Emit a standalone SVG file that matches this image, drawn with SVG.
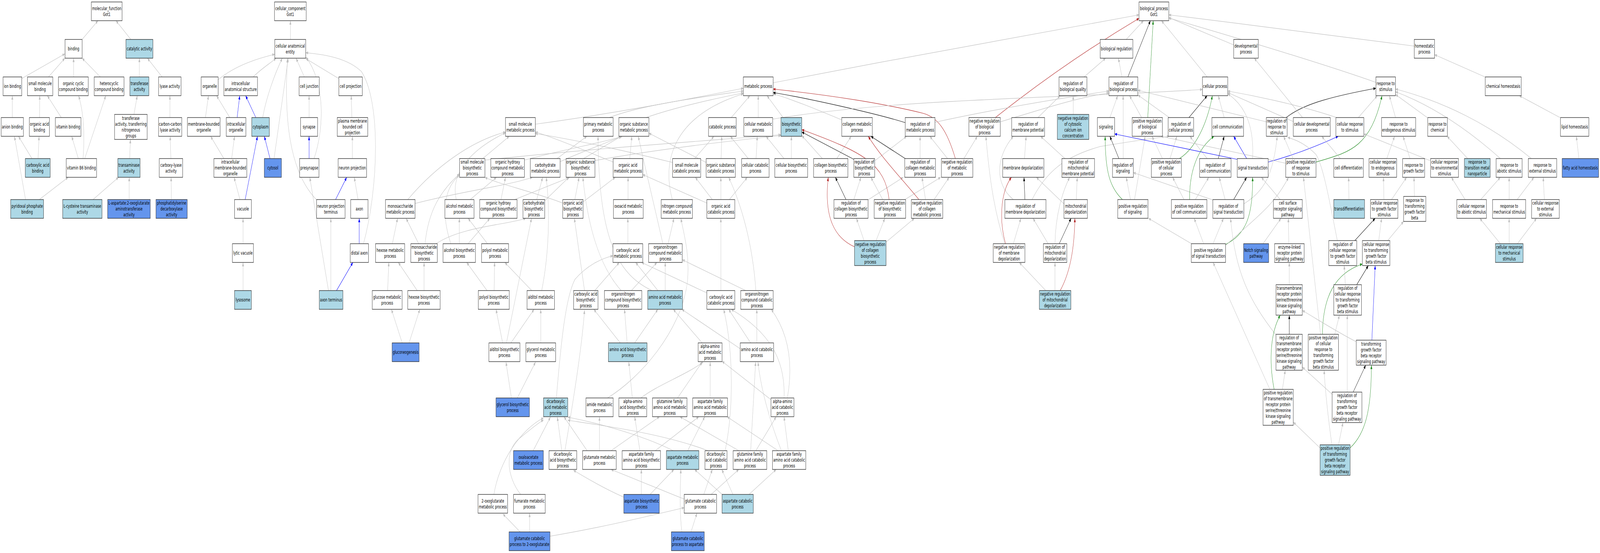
<svg xmlns="http://www.w3.org/2000/svg" width="6761" height="1416" viewBox="0 0 6761 1416" preserveAspectRatio="none">
<defs>
<marker id="ag" viewBox="0 0 10 8" refX="10" refY="4" markerWidth="10" markerHeight="8" markerUnits="userSpaceOnUse" orient="auto"><path d="M0,0L10,4L0,8z" fill="#c0c0c0"/></marker>
<marker id="ak" viewBox="0 0 10 8" refX="10" refY="4" markerWidth="10" markerHeight="8" markerUnits="userSpaceOnUse" orient="auto"><path d="M0,0L10,4L0,8z" fill="#000000"/></marker>
<marker id="ar" viewBox="0 0 10 8" refX="10" refY="4" markerWidth="10" markerHeight="8" markerUnits="userSpaceOnUse" orient="auto"><path d="M0,0L10,4L0,8z" fill="#b22222"/></marker>
<marker id="an" viewBox="0 0 10 8" refX="10" refY="4" markerWidth="10" markerHeight="8" markerUnits="userSpaceOnUse" orient="auto"><path d="M0,0L10,4L0,8z" fill="#228b22"/></marker>
<marker id="ab" viewBox="0 0 10 8" refX="10" refY="4" markerWidth="10" markerHeight="8" markerUnits="userSpaceOnUse" orient="auto"><path d="M0,0L10,4L0,8z" fill="#0000ff"/></marker>
</defs>
<style>
svg{width:100%;height:100%}
.node rect{fill:#ffffff;stroke:#222222;stroke-width:1.3}
.node.lb rect{fill:#add8e6}
.node.bl rect{fill:#6495ed}
.node text{font-family:"DejaVu Sans","Liberation Sans",sans-serif;font-size:13px;fill:#000000;text-anchor:middle}
#edges path{fill:none;stroke-width:1.2}
#edges .e{stroke:#c0c0c0;marker-end:url(#ag)}
#edges .k{stroke:#000000;marker-end:url(#ak)}
#edges .r{stroke:#b22222;marker-end:url(#ar)}
#edges .n{stroke:#228b22;marker-end:url(#an)}
#edges .b{stroke:#0000ff;marker-end:url(#ab)}
</style>
<rect x="0" y="0" width="6761" height="1416" fill="#ffffff"/>
<g id="edges">
<path class="e" d="M347 101L414 53"/>
<path class="e" d="M553 101L490 53"/>
<path class="e" d="M92 201L274 138"/>
<path class="e" d="M205 197L274 149"/>
<path class="e" d="M311 197L311 149"/>
<path class="e" d="M424 197L347 149"/>
<path class="e" d="M589 197L589 149"/>
<path class="e" d="M685 197L623 149"/>
<path class="e" d="M52 301L52 245"/>
<path class="e" d="M167 301L168 245"/>
<path class="e" d="M259 301L200 245"/>
<path class="e" d="M566 293L580 245"/>
<path class="e" d="M718 301L718 245"/>
<path class="e" d="M135 406L78 349"/>
<path class="e" d="M161 406L165 349"/>
<path class="e" d="M331 406L303 349"/>
<path class="e" d="M351 406C358 350 355 290 332 245"/>
<path class="e" d="M358 406L447 245"/>
<path class="e" d="M548 406L551 357"/>
<path class="e" d="M722 406L719 349"/>
<path class="e" d="M108 511L61 349"/>
<path class="e" d="M166 511L288 454"/>
<path class="e" d="M393 511L501 454"/>
<path class="e" d="M546 511L546 454"/>
<path class="e" d="M724 511L723 454"/>
<path class="e" d="M1227 101L1227 53"/>
<path class="e" d="M922 204C1000 165 1100 148 1161 139"/>
<path class="e" d="M1070 197C1100 178 1135 165 1167 149"/>
<path class="e" d="M868 301L881 245"/>
<path class="e" d="M971 301L915 245"/>
<path class="b" d="M1002 301L1013 245"/>
<path class="b" d="M1081 301L1038 245"/>
<path class="e" d="M1110 301C1125 250 1160 190 1193 149"/>
<path class="e" d="M946 406L890 349"/>
<path class="e" d="M979 406L991 349"/>
<path class="b" d="M1141 406L1117 349"/>
<path class="e" d="M1158 406L1218 149"/>
<path class="e" d="M1014 511L989 454"/>
<path class="b" d="M1036 511L1088 349"/>
<path class="e" d="M1027 624L1027 559"/>
<path class="e" d="M1027 744L1027 672"/>
<path class="e" d="M1286 197L1251 149"/>
<path class="e" d="M1431 201L1292 150"/>
<path class="e" d="M1306 301L1306 245"/>
<path class="e" d="M1487 301L1484 245"/>
<path class="b" d="M1306 406L1306 349"/>
<path class="e" d="M1327 406C1370 330 1375 210 1292 146"/>
<path class="e" d="M1489 406L1489 349"/>
<path class="b" d="M1418 511L1465 454"/>
<path class="e" d="M1340 513C1220 440 1200 300 1215 150"/>
<path class="e" d="M1513 511L1497 454"/>
<path class="b" d="M1518 624L1518 559"/>
<path class="e" d="M1536 624C1600 480 1610 260 1527 183C1470 150 1380 140 1292 135"/>
<path class="b" d="M1422 744L1491 672"/>
<path class="e" d="M1388 744L1309 454"/>
<path class="e" d="M1398 744L1398 559"/>
<path class="e" d="M2262 318C2600 290 2900 255 3141 226"/>
<path class="e" d="M2575 301C2700 270 2950 250 3141 233"/>
<path class="e" d="M2730 301C2850 275 3000 255 3141 238"/>
<path class="e" d="M2841 511C2800 420 2830 300 3141 240"/>
<path class="e" d="M3090 301L3169 245"/>
<path class="e" d="M3204 301L3204 245"/>
<path class="e" d="M3309 301L3241 245"/>
<path class="e" d="M3557 307C3450 280 3350 255 3267 240"/>
<path class="k" d="M3825 314C3700 290 3400 250 3267 237"/>
<path class="r" d="M4037 406C4000 330 3960 300 3900 290C3700 260 3450 240 3267 228"/>
<path class="e" d="M3267 212C3800 150 4400 80 4813 38"/>
<path class="r" d="M4206 301Q4500 160 4813 47"/>
<path class="e" d="M3951 313C4200 280 4500 250 4686 233"/>
<path class="e" d="M4227 312C4400 280 4550 250 4686 238"/>
<path class="e" d="M3265 305C3800 250 4600 250 5081 229"/>
<path class="e" d="M3536 406L3597 349"/>
<path class="e" d="M3475 406L3388 347"/>
<path class="k" d="M3608 408L3388 338"/>
<path class="e" d="M3698 411L3831 349"/>
<path class="k" d="M3825 406L3680 349"/>
<path class="e" d="M3888 406L3888 349"/>
<path class="e" d="M4004 406L3929 349"/>
<path class="e" d="M4073 406L4130 349"/>
<path class="k" d="M3575 511L3530 454"/>
<path class="e" d="M3608 511L3638 454"/>
<path class="e" d="M3665 513L3817 454"/>
<path class="r" d="M3757 511C3740 420 3650 390 3388 332"/>
<path class="e" d="M3730 511L3680 454"/>
<path class="e" d="M3824 511L3975 454"/>
<path class="r" d="M3883 511C3800 450 3720 400 3669 349"/>
<path class="e" d="M3911 511L3896 454"/>
<path class="e" d="M3947 511L4011 454"/>
<path class="r" d="M3611 632C3530 610 3480 560 3500 454"/>
<path class="e" d="M3651 616L3619 559"/>
<path class="e" d="M3702 616L3739 559"/>
<path class="e" d="M3744 620L3864 559"/>
<path class="e" d="M4386 301L4480 245"/>
<path class="e" d="M4329 406L4336 349"/>
<path class="k" d="M4331 511L4327 454"/>
<path class="e" d="M4282 511C4200 470 4210 400 4282 349"/>
<path class="e" d="M4361 511C4420 440 4500 400 4650 375C4800 360 4900 352 4940 349"/>
<path class="r" d="M4249 624C4220 560 4230 490 4274 454"/>
<path class="e" d="M4282 624L4314 559"/>
<path class="e" d="M4246 624C4200 540 4180 450 4166 349"/>
<path class="e" d="M4429 624L4365 559"/>
<path class="k" d="M4476 624L4526 559"/>
<path class="e" d="M4458 624C4460 550 4490 490 4520 454"/>
<path class="e" d="M4419 744L4307 672"/>
<path class="e" d="M4458 744L4458 672"/>
<path class="r" d="M4480 744C4520 700 4540 640 4542 559"/>
<path class="e" d="M4548 511L4552 454"/>
<path class="e" d="M4496 522L4379 454"/>
<path class="e" d="M4500 406L4397 349"/>
<path class="e" d="M4535 293L4535 245"/>
<path class="e" d="M4581 197L4672 149"/>
<path class="e" d="M4741 197L4726 149"/>
<path class="e" d="M4759 101L4832 53"/>
<path class="k" d="M4766 197L4861 53"/>
<path class="n" d="M4850 301L4873 53"/>
<path class="e" d="M5101 197L4908 53"/>
<path class="e" d="M5213 115L4939 45"/>
<path class="e" d="M5976 118C5700 95 5300 65 4939 38"/>
<path class="e" d="M5814 211C5600 165 5300 110 4939 46"/>
<path class="e" d="M4690 301L4723 245"/>
<path class="k" d="M4728 406L4690 349"/>
<path class="e" d="M4746 406L4746 245"/>
<path class="n" d="M4743 511C4690 480 4670 440 4670 349"/>
<path class="e" d="M4777 511L4759 454"/>
<path class="e" d="M4794 511L4839 349"/>
<path class="e" d="M4824 301L4773 245"/>
<path class="e" d="M4941 301L4808 243"/>
<path class="k" d="M5024 301L5101 245"/>
<path class="e" d="M5173 301L5148 245"/>
<path class="n" d="M4984 406C5050 380 5100 320 5123 245"/>
<path class="e" d="M4944 406L4973 349"/>
<path class="e" d="M4912 406L4868 349"/>
<path class="k" d="M5148 406L5173 349"/>
<path class="e" d="M5101 406L5028 349"/>
<path class="b" d="M5228 408L4710 343"/>
<path class="b" d="M5268 406L5213 349"/>
<path class="e" d="M5293 406C5300 320 5260 270 5188 240"/>
<path class="b" d="M5359 415C5480 395 5580 370 5655 349"/>
<path class="k" d="M5213 511L5268 454"/>
<path class="e" d="M5177 511L5152 454"/>
<path class="e" d="M5130 513L4789 442"/>
<path class="e" d="M5256 522C5340 490 5380 450 5397 349"/>
<path class="n" d="M5027 511C5025 440 5060 380 5130 349"/>
<path class="e" d="M5051 511L5108 454"/>
<path class="e" d="M5003 511L4955 454"/>
<path class="n" d="M5179 626C5260 600 5295 560 5293 454"/>
<path class="e" d="M5035 624L4853 559"/>
<path class="e" d="M5086 624L5046 559"/>
<path class="e" d="M5126 624L5170 559"/>
<path class="e" d="M5180 628C5300 560 5380 530 5445 454"/>
<path class="e" d="M5464 406L5424 349"/>
<path class="n" d="M5561 415C5700 390 5790 380 5840 245"/>
<path class="e" d="M5433 418L4906 349"/>
<path class="k" d="M5435 301C5500 270 5600 250 5814 226"/>
<path class="e" d="M5351 312L4808 231"/>
<path class="e" d="M5468 312L5188 237"/>
<path class="e" d="M5504 301L5300 149"/>
<path class="e" d="M5648 301C5500 270 5300 245 5188 233"/>
<path class="e" d="M5664 406L5585 349"/>
<path class="e" d="M5410 511L5330 454"/>
<path class="e" d="M5337 624L5413 559"/>
<path class="e" d="M5446 624L5444 559"/>
<path class="e" d="M5448 729L5448 672"/>
<path class="k" d="M5448 856L5448 807"/>
<path class="e" d="M5392 858C5280 770 5220 700 5200 559"/>
<path class="n" d="M5384 997C5360 920 5370 850 5410 807"/>
<path class="e" d="M5419 997L5431 948"/>
<path class="e" d="M5366 997L5126 672"/>
<path class="e" d="M5580 856L5508 454"/>
<path class="n" d="M5588 856C5590 760 5640 700 5757 676"/>
<path class="e" d="M5640 856L5660 807"/>
<path class="e" d="M5651 616C5620 520 5590 420 5560 395C5520 370 5480 358 5441 352"/>
<path class="k" d="M5725 616L5811 559"/>
<path class="e" d="M5685 729L5680 680"/>
<path class="k" d="M5733 729L5782 680"/>
<path class="b" d="M5797 871L5811 680"/>
<path class="e" d="M5731 875C5650 850 5560 815 5503 795"/>
<path class="k" d="M5718 1004L5771 935"/>
<path class="e" d="M5693 1004L5693 807"/>
<path class="e" d="M5630 1010L5503 940"/>
<path class="n" d="M5705 1147C5770 1110 5795 1050 5795 935"/>
<path class="e" d="M5656 1139L5675 1082"/>
<path class="e" d="M5578 1147L5465 1081"/>
<path class="e" d="M5628 1139C5610 1060 5600 1000 5595 948"/>
<path class="e" d="M6275 197L6062 140"/>
<path class="e" d="M6592 301L6420 245"/>
<path class="e" d="M6672 406L6661 349"/>
<path class="e" d="M5740 301L5820 245"/>
<path class="e" d="M5897 301L5871 245"/>
<path class="e" d="M6031 301L5897 242"/>
<path class="e" d="M6340 406C6200 330 6050 270 5897 235"/>
<path class="e" d="M6471 406C6300 320 6100 260 5897 228"/>
<path class="e" d="M5860 406L5893 349"/>
<path class="e" d="M6042 411L5763 343"/>
<path class="e" d="M5958 406L5929 349"/>
<path class="e" d="M6202 406L6115 349"/>
<path class="e" d="M5700 511L5699 454"/>
<path class="e" d="M5848 511L5846 454"/>
<path class="e" d="M5880 511L5944 454"/>
<path class="e" d="M5977 503L5975 454"/>
<path class="e" d="M5826 616L5838 559"/>
<path class="e" d="M5864 616L5931 567"/>
<path class="e" d="M6257 511L6340 454"/>
<path class="e" d="M6191 511L6133 454"/>
<path class="e" d="M6377 511L6377 454"/>
<path class="e" d="M6411 511L6482 454"/>
<path class="e" d="M6526 511L6521 454"/>
<path class="e" d="M6340 624L6253 559"/>
<path class="e" d="M6377 624L6377 559"/>
<path class="e" d="M6412 624L6493 559"/>
<path class="e" d="M2040 406L2152 349"/>
<path class="e" d="M2049 410C2500 380 3000 360 3300 345"/>
<path class="e" d="M2216 410C2400 380 2550 365 2630 349"/>
<path class="e" d="M2117 511L2136 454"/>
<path class="e" d="M1987 511L2098 454"/>
<path class="e" d="M1928 511C1900 440 2000 380 2136 340"/>
<path class="e" d="M1723 511C1850 420 2000 360 2136 338"/>
<path class="e" d="M1754 521C1950 490 2150 475 2250 454"/>
<path class="e" d="M2354 406L2480 349"/>
<path class="e" d="M2367 414C2450 390 2570 365 2625 349"/>
<path class="e" d="M2514 411C2800 380 3100 360 3300 347"/>
<path class="e" d="M2466 406L2625 349"/>
<path class="e" d="M2591 415C2450 380 2330 350 2262 338"/>
<path class="e" d="M2661 406L2670 349"/>
<path class="e" d="M2842 416C2600 380 2400 355 2262 342"/>
<path class="e" d="M2935 406L3017 349"/>
<path class="e" d="M3047 406L3050 349"/>
<path class="e" d="M2984 416L2742 341"/>
<path class="e" d="M3195 406L3200 349"/>
<path class="e" d="M3162 406L3086 349"/>
<path class="e" d="M3313 406L3237 349"/>
<path class="e" d="M3344 406L3344 349"/>
<path class="e" d="M2175 511L2408 454"/>
<path class="e" d="M2268 511L2293 454"/>
<path class="e" d="M2300 515L2404 454"/>
<path class="e" d="M2429 511L2447 454"/>
<path class="e" d="M2464 517L2600 454"/>
<path class="e" d="M2378 520C2250 490 2100 470 2049 454"/>
<path class="e" d="M2654 511L2654 454"/>
<path class="e" d="M2987 520L2716 447"/>
<path class="e" d="M3010 511L2938 454"/>
<path class="e" d="M3046 511L3046 454"/>
<path class="e" d="M3082 511L3158 454"/>
<path class="e" d="M1941 624L1941 559"/>
<path class="e" d="M1978 624L2070 559"/>
<path class="e" d="M1905 624C1860 540 1880 480 1942 448"/>
<path class="e" d="M1796 624C1810 540 1860 490 1942 445"/>
<path class="e" d="M1769 624L1716 559"/>
<path class="e" d="M1843 624C1950 580 2150 575 2222 559"/>
<path class="e" d="M1658 624L1680 559"/>
<path class="e" d="M2060 624L1978 559"/>
<path class="e" d="M2088 744L2090 672"/>
<path class="e" d="M2058 744L1972 672"/>
<path class="e" d="M2247 744L2133 672"/>
<path class="e" d="M2289 744C2320 650 2325 540 2308 454"/>
<path class="e" d="M1638 744L1643 672"/>
<path class="e" d="M1763 744L1683 672"/>
<path class="e" d="M1792 744L1792 672"/>
<path class="e" d="M1700 879L1654 792"/>
<path class="e" d="M1728 879L1774 792"/>
<path class="e" d="M2124 878L2096 792"/>
<path class="e" d="M2159 878L2257 792"/>
<path class="e" d="M2140 878L2246 559"/>
<path class="e" d="M2285 878L2285 792"/>
<path class="e" d="M2161 1019L2138 927"/>
<path class="e" d="M2186 1019L2263 927"/>
<path class="e" d="M2351 1019C2370 880 2390 760 2430 715C2480 680 2540 662 2590 655"/>
<path class="e" d="M2253 1154L2326 1068"/>
<path class="e" d="M2087 1266C2110 1180 2200 1100 2297 1070"/>
<path class="e" d="M2200 1266C2140 1220 2130 1150 2200 1120C2240 1100 2270 1085 2297 1075"/>
<path class="e" d="M2374 1154L2355 1068"/>
<path class="e" d="M2387 1154C2430 1000 2460 880 2470 794"/>
<path class="e" d="M2198 1362L2125 1316"/>
<path class="e" d="M2238 1362L2238 1314"/>
<path class="e" d="M2324 1373C2550 1350 2750 1320 2891 1300"/>
<path class="e" d="M2636 1273C2550 1250 2480 1225 2423 1204"/>
<path class="e" d="M2653 624L2653 559"/>
<path class="e" d="M2823 624L2848 559"/>
<path class="e" d="M2801 624C2770 540 2730 440 2697 349"/>
<path class="e" d="M2513 744L2617 672"/>
<path class="e" d="M2470 744L2427 559"/>
<path class="e" d="M2668 744L2776 672"/>
<path class="e" d="M2625 744C2560 700 2490 620 2463 454"/>
<path class="e" d="M2780 744L2686 672"/>
<path class="e" d="M2811 744L2811 672"/>
<path class="e" d="M2755 744C2600 700 2530 600 2527 349"/>
<path class="e" d="M2987 750L2711 672"/>
<path class="e" d="M3046 744L3046 559"/>
<path class="e" d="M3151 744L2883 665"/>
<path class="e" d="M3194 744C3180 620 3130 520 3079 454"/>
<path class="e" d="M2621 878L2509 792"/>
<path class="e" d="M2650 878L2639 792"/>
<path class="e" d="M2682 878L2780 792"/>
<path class="e" d="M2967 878L2845 792"/>
<path class="e" d="M3172 878L3079 792"/>
<path class="e" d="M3198 878L3198 792"/>
<path class="e" d="M3128 893L2881 792"/>
<path class="e" d="M2567 1019C2700 970 2880 850 2905 720C2915 650 2890 600 2877 559"/>
<path class="e" d="M2672 1019L2657 927"/>
<path class="e" d="M2708 1019C2780 985 2900 960 2971 927"/>
<path class="e" d="M2863 1019L2967 927"/>
<path class="e" d="M3001 1019L3001 927"/>
<path class="e" d="M3259 1024L3051 925"/>
<path class="e" d="M3313 1019C3320 920 3250 850 3090 792"/>
<path class="e" d="M3327 1019C3350 940 3340 860 3259 792"/>
<path class="e" d="M2582 1154L2787 1067"/>
<path class="e" d="M2481 1154L2383 1067"/>
<path class="e" d="M2533 1154L2533 1067"/>
<path class="e" d="M2704 1154L2682 1067"/>
<path class="e" d="M2769 1154L2953 1067"/>
<path class="e" d="M2845 1154C2700 1110 2500 1080 2399 1068"/>
<path class="e" d="M2906 1154L2978 1067"/>
<path class="e" d="M2992 1154C2800 1110 2550 1090 2399 1076"/>
<path class="e" d="M3064 1154C3100 1050 3100 900 3058 792"/>
<path class="e" d="M3122 1154L2873 1067"/>
<path class="e" d="M3172 1154L3193 927"/>
<path class="e" d="M3194 1154L3280 1067"/>
<path class="e" d="M3288 1154L3072 1067"/>
<path class="e" d="M3331 1154L3313 1067"/>
<path class="e" d="M3302 1154C3260 1090 3215 1000 3203 927"/>
<path class="e" d="M2710 1266L2710 1202"/>
<path class="e" d="M2747 1266L2848 1202"/>
<path class="e" d="M2891 1278L2582 1202"/>
<path class="e" d="M2974 1266L3010 1202"/>
<path class="e" d="M3005 1266L3122 1202"/>
<path class="e" d="M3064 1273L2935 1202"/>
<path class="e" d="M3097 1266L3050 1202"/>
<path class="e" d="M3165 1266L3280 1202"/>
<path class="e" d="M2881 1362C2870 1300 2875 1250 2877 1202"/>
<path class="e" d="M2920 1362L2945 1314"/>
</g>
<g id="n-mf" class="node"><rect x="386" y="5" width="130" height="48"/><text><tspan x="451" y="26">molecular_function</tspan><tspan x="451" y="41">Got1</tspan></text></g>
<g id="n-binding" class="node"><rect x="275" y="101" width="72" height="48"/><text x="311" y="129.5">binding</text></g>
<g id="n-catalytic" class="node lb"><rect x="532" y="101" width="114" height="48"/><text x="589" y="129.5">catalytic activity</text></g>
<g id="n-ionb" class="node"><rect x="13" y="197" width="79" height="48"/><text x="52.5" y="225.5">ion binding</text></g>
<g id="n-smb" class="node"><rect x="116" y="197" width="107" height="48"/><text><tspan x="169.5" y="218">small molecule</tspan><tspan x="169.5" y="233">binding</tspan></text></g>
<g id="n-occb" class="node"><rect x="247" y="197" width="126" height="48"/><text><tspan x="310" y="218">organic cyclic</tspan><tspan x="310" y="233">compound binding</tspan></text></g>
<g id="n-hccb" class="node"><rect x="398" y="197" width="126" height="48"/><text><tspan x="461" y="218">heterocyclic</tspan><tspan x="461" y="233">compound binding</tspan></text></g>
<g id="n-transf" class="node lb"><rect x="549" y="197" width="80" height="48"/><text><tspan x="589" y="218">transferase</tspan><tspan x="589" y="233">activity</tspan></text></g>
<g id="n-lyase" class="node"><rect x="670" y="197" width="95" height="48"/><text x="717.5" y="225.5">lyase activity</text></g>
<g id="n-anionb" class="node"><rect x="5" y="301" width="94" height="48"/><text x="52" y="329.5">anion binding</text></g>
<g id="n-oab" class="node"><rect x="124" y="301" width="85" height="48"/><text><tspan x="166.5" y="322">organic acid</tspan><tspan x="166.5" y="337">binding</tspan></text></g>
<g id="n-vitb" class="node"><rect x="234" y="301" width="108" height="48"/><text x="288" y="329.5">vitamin binding</text></g>
<g id="n-transn" class="node"><rect x="484" y="293" width="138" height="64"/><text><tspan x="553" y="307">transferase</tspan><tspan x="553" y="322">activity, transferring</tspan><tspan x="553" y="337">nitrogenous</tspan><tspan x="553" y="352">groups</tspan></text></g>
<g id="n-ccly" class="node"><rect x="670" y="301" width="98" height="48"/><text><tspan x="719" y="322">carbon-carbon</tspan><tspan x="719" y="337">lyase activity</tspan></text></g>
<g id="n-carbb" class="node lb"><rect x="107" y="406" width="105" height="48"/><text><tspan x="159.5" y="427">carboxylic acid</tspan><tspan x="159.5" y="442">binding</tspan></text></g>
<g id="n-vb6" class="node"><rect x="280" y="406" width="128" height="48"/><text x="344" y="434.5">vitamin B6 binding</text></g>
<g id="n-transam" class="node lb"><rect x="498" y="406" width="94" height="48"/><text><tspan x="545" y="427">transaminase</tspan><tspan x="545" y="442">activity</tspan></text></g>
<g id="n-cxly" class="node"><rect x="673" y="406" width="99" height="48"/><text><tspan x="722.5" y="427">carboxy-lyase</tspan><tspan x="722.5" y="442">activity</tspan></text></g>
<g id="n-pyr" class="node lb"><rect x="45" y="511" width="139" height="48"/><text><tspan x="114.5" y="532">pyridoxal phosphate</tspan><tspan x="114.5" y="547">binding</tspan></text></g>
<g id="n-lcys" class="node lb"><rect x="265" y="511" width="166" height="48"/><text><tspan x="348" y="532">L-cysteine transaminase</tspan><tspan x="348" y="547">activity</tspan></text></g>
<g id="n-lasp" class="node bl"><rect x="455" y="511" width="180" height="48"/><text><tspan x="545" y="524.5">L-aspartate:2-oxoglutarate</tspan><tspan x="545" y="539.5">aminotransferase</tspan><tspan x="545" y="554.5">activity</tspan></text></g>
<g id="n-pser" class="node bl"><rect x="659" y="511" width="132" height="48"/><text><tspan x="725" y="524.5">phosphatidylserine</tspan><tspan x="725" y="539.5">decarboxylase</tspan><tspan x="725" y="554.5">activity</tspan></text></g>
<g id="n-cc" class="node"><rect x="1160" y="5" width="134" height="48"/><text><tspan x="1227" y="26">cellular_component</tspan><tspan x="1227" y="41">Got1</tspan></text></g>
<g id="n-cae" class="node"><rect x="1161" y="101" width="131" height="48"/><text><tspan x="1226.5" y="122">cellular anatomical</tspan><tspan x="1226.5" y="137">entity</tspan></text></g>
<g id="n-organelle" class="node"><rect x="850" y="197" width="72" height="48"/><text x="886" y="225.5">organelle</text></g>
<g id="n-ias" class="node"><rect x="946" y="197" width="142" height="48"/><text><tspan x="1017" y="218">intracellular</tspan><tspan x="1017" y="233">anatomical structure</tspan></text></g>
<g id="n-celljunc" class="node"><rect x="1264" y="197" width="85" height="48"/><text x="1306.5" y="225.5">cell junction</text></g>
<g id="n-cellproj" class="node"><rect x="1432" y="197" width="99" height="48"/><text x="1481.5" y="225.5">cell projection</text></g>
<g id="n-mbo" class="node"><rect x="792" y="301" width="138" height="48"/><text><tspan x="861" y="322">membrane-bounded</tspan><tspan x="861" y="337">organelle</tspan></text></g>
<g id="n-io" class="node"><rect x="956" y="301" width="83" height="48"/><text><tspan x="997.5" y="322">intracellular</tspan><tspan x="997.5" y="337">organelle</tspan></text></g>
<g id="n-cyto" class="node lb"><rect x="1064" y="301" width="74" height="48"/><text x="1101" y="329.5">cytoplasm</text></g>
<g id="n-synapse" class="node"><rect x="1270" y="301" width="72" height="48"/><text x="1306" y="329.5">synapse</text></g>
<g id="n-pmbcp" class="node"><rect x="1425" y="301" width="129" height="48"/><text><tspan x="1489.5" y="314.5">plasma membrane</tspan><tspan x="1489.5" y="329.5">bounded cell</tspan><tspan x="1489.5" y="344.5">projection</tspan></text></g>
<g id="n-imbo" class="node"><rect x="904" y="406" width="139" height="48"/><text><tspan x="973.5" y="419.5">intracellular</tspan><tspan x="973.5" y="434.5">membrane-bounded</tspan><tspan x="973.5" y="449.5">organelle</tspan></text></g>
<g id="n-cytosol" class="node bl"><rect x="1117" y="406" width="72" height="48"/><text x="1153" y="434.5">cytosol</text></g>
<g id="n-presyn" class="node"><rect x="1266" y="406" width="82" height="48"/><text x="1307" y="434.5">presynapse</text></g>
<g id="n-neuproj" class="node"><rect x="1429" y="406" width="120" height="48"/><text x="1489" y="434.5">neuron projection</text></g>
<g id="n-vacuole" class="node"><rect x="991" y="511" width="71" height="48"/><text x="1026.5" y="539.5">vacuole</text></g>
<g id="n-npt" class="node"><rect x="1338" y="511" width="120" height="48"/><text><tspan x="1398" y="532">neuron projection</tspan><tspan x="1398" y="547">terminus</tspan></text></g>
<g id="n-axon" class="node"><rect x="1482" y="511" width="73" height="48"/><text x="1518.5" y="539.5">axon</text></g>
<g id="n-lytic" class="node"><rect x="982" y="624" width="89" height="48"/><text x="1026.5" y="652.5">lytic vacuole</text></g>
<g id="n-distal" class="node"><rect x="1480" y="624" width="77" height="48"/><text x="1518.5" y="652.5">distal axon</text></g>
<g id="n-lysosome" class="node lb"><rect x="991" y="744" width="71" height="48"/><text x="1026.5" y="772.5">lysosome</text></g>
<g id="n-axterm" class="node lb"><rect x="1349" y="744" width="100" height="48"/><text x="1399" y="772.5">axon terminus</text></g>
<g id="n-mp" class="node"><rect x="3141" y="197" width="126" height="48"/><text x="3204" y="225.5">metabolic process</text></g>
<g id="n-smmp" class="node"><rect x="2136" y="301" width="126" height="48"/><text><tspan x="2199" y="322">small molecule</tspan><tspan x="2199" y="337">metabolic process</tspan></text></g>
<g id="n-pmp" class="node"><rect x="2465" y="301" width="126" height="48"/><text><tspan x="2528" y="322">primary metabolic</tspan><tspan x="2528" y="337">process</tspan></text></g>
<g id="n-osmp" class="node"><rect x="2615" y="301" width="127" height="48"/><text><tspan x="2678.5" y="322">organic substance</tspan><tspan x="2678.5" y="337">metabolic process</tspan></text></g>
<g id="n-catp" class="node"><rect x="2994" y="301" width="117" height="48"/><text x="3052.5" y="329.5">catabolic process</text></g>
<g id="n-cmp" class="node"><rect x="3143" y="301" width="122" height="48"/><text><tspan x="3204" y="322">cellular metabolic</tspan><tspan x="3204" y="337">process</tspan></text></g>
<g id="n-bsp" class="node lb"><rect x="3300" y="301" width="88" height="48"/><text><tspan x="3344" y="322">biosynthetic</tspan><tspan x="3344" y="337">process</tspan></text></g>
<g id="n-smbp" class="node"><rect x="1942" y="406" width="107" height="48"/><text><tspan x="1995.5" y="419.5">small molecule</tspan><tspan x="1995.5" y="434.5">biosynthetic</tspan><tspan x="1995.5" y="449.5">process</tspan></text></g>
<g id="n-ohcmp" class="node"><rect x="2074" y="406" width="142" height="48"/><text><tspan x="2145" y="419.5">organic hydroxy</tspan><tspan x="2145" y="434.5">compound metabolic</tspan><tspan x="2145" y="449.5">process</tspan></text></g>
<g id="n-chmp" class="node"><rect x="2241" y="406" width="126" height="48"/><text><tspan x="2304" y="427">carbohydrate</tspan><tspan x="2304" y="442">metabolic process</tspan></text></g>
<g id="n-osbp" class="node"><rect x="2392" y="406" width="122" height="48"/><text><tspan x="2453" y="419.5">organic substance</tspan><tspan x="2453" y="434.5">biosynthetic</tspan><tspan x="2453" y="449.5">process</tspan></text></g>
<g id="n-oamp" class="node"><rect x="2591" y="406" width="125" height="48"/><text><tspan x="2653.5" y="427">organic acid</tspan><tspan x="2653.5" y="442">metabolic process</tspan></text></g>
<g id="n-smcp" class="node"><rect x="2842" y="406" width="119" height="48"/><text><tspan x="2901.5" y="427">small molecule</tspan><tspan x="2901.5" y="442">catabolic process</tspan></text></g>
<g id="n-oscp" class="node"><rect x="2984" y="406" width="123" height="48"/><text><tspan x="3045.5" y="427">organic substance</tspan><tspan x="3045.5" y="442">catabolic process</tspan></text></g>
<g id="n-ccp" class="node"><rect x="3134" y="406" width="116" height="48"/><text><tspan x="3192" y="427">cellular catabolic</tspan><tspan x="3192" y="442">process</tspan></text></g>
<g id="n-cbp2" class="node"><rect x="3274" y="406" width="139" height="48"/><text><tspan x="3343.5" y="427">cellular biosynthetic</tspan><tspan x="3343.5" y="442">process</tspan></text></g>
<g id="n-msmp" class="node"><rect x="1629" y="511" width="125" height="48"/><text><tspan x="1691.5" y="532">monosaccharide</tspan><tspan x="1691.5" y="547">metabolic process</tspan></text></g>
<g id="n-almp" class="node"><rect x="1880" y="511" width="123" height="48"/><text><tspan x="1941.5" y="532">alcohol metabolic</tspan><tspan x="1941.5" y="547">process</tspan></text></g>
<g id="n-ohcbp" class="node"><rect x="2027" y="511" width="158" height="48"/><text><tspan x="2106" y="524.5">organic hydroxy</tspan><tspan x="2106" y="539.5">compound biosynthetic</tspan><tspan x="2106" y="554.5">process</tspan></text></g>
<g id="n-chbp" class="node"><rect x="2210" y="511" width="92" height="48"/><text><tspan x="2256" y="524.5">carbohydrate</tspan><tspan x="2256" y="539.5">biosynthetic</tspan><tspan x="2256" y="554.5">process</tspan></text></g>
<g id="n-oabp" class="node"><rect x="2378" y="511" width="86" height="48"/><text><tspan x="2421" y="524.5">organic acid</tspan><tspan x="2421" y="539.5">biosynthetic</tspan><tspan x="2421" y="554.5">process</tspan></text></g>
<g id="n-oxmp" class="node"><rect x="2592" y="511" width="126" height="48"/><text><tspan x="2655" y="532">oxoacid metabolic</tspan><tspan x="2655" y="547">process</tspan></text></g>
<g id="n-ncmp" class="node"><rect x="2794" y="511" width="132" height="48"/><text><tspan x="2860" y="532">nitrogen compound</tspan><tspan x="2860" y="547">metabolic process</tspan></text></g>
<g id="n-oacp" class="node"><rect x="2987" y="511" width="118" height="48"/><text><tspan x="3046" y="532">organic acid</tspan><tspan x="3046" y="547">catabolic process</tspan></text></g>
<g id="n-hexmp" class="node"><rect x="1587" y="624" width="123" height="48"/><text><tspan x="1648.5" y="645">hexose metabolic</tspan><tspan x="1648.5" y="660">process</tspan></text></g>
<g id="n-msbp" class="node"><rect x="1736" y="624" width="112" height="48"/><text><tspan x="1792" y="637.5">monosaccharide</tspan><tspan x="1792" y="652.5">biosynthetic</tspan><tspan x="1792" y="667.5">process</tspan></text></g>
<g id="n-albp" class="node"><rect x="1872" y="624" width="137" height="48"/><text><tspan x="1940.5" y="645">alcohol biosynthetic</tspan><tspan x="1940.5" y="660">process</tspan></text></g>
<g id="n-polmp" class="node"><rect x="2035" y="624" width="114" height="48"/><text><tspan x="2092" y="645">polyol metabolic</tspan><tspan x="2092" y="660">process</tspan></text></g>
<g id="n-camp" class="node"><rect x="2590" y="624" width="126" height="48"/><text><tspan x="2653" y="645">carboxylic acid</tspan><tspan x="2653" y="660">metabolic process</tspan></text></g>
<g id="n-oncmp" class="node"><rect x="2741" y="624" width="142" height="48"/><text><tspan x="2812" y="637.5">organonitrogen</tspan><tspan x="2812" y="652.5">compound metabolic</tspan><tspan x="2812" y="667.5">process</tspan></text></g>
<g id="n-glcmp" class="node"><rect x="1573" y="744" width="126" height="48"/><text><tspan x="1636" y="765">glucose metabolic</tspan><tspan x="1636" y="780">process</tspan></text></g>
<g id="n-hexbp" class="node"><rect x="1723" y="744" width="137" height="48"/><text><tspan x="1791.5" y="765">hexose biosynthetic</tspan><tspan x="1791.5" y="780">process</tspan></text></g>
<g id="n-polbp" class="node"><rect x="2021" y="744" width="131" height="48"/><text><tspan x="2086.5" y="765">polyol biosynthetic</tspan><tspan x="2086.5" y="780">process</tspan></text></g>
<g id="n-aldmp" class="node"><rect x="2227" y="744" width="116" height="48"/><text><tspan x="2285" y="765">alditol metabolic</tspan><tspan x="2285" y="780">process</tspan></text></g>
<g id="n-cabp" class="node"><rect x="2424" y="744" width="103" height="48"/><text><tspan x="2475.5" y="757.5">carboxylic acid</tspan><tspan x="2475.5" y="772.5">biosynthetic</tspan><tspan x="2475.5" y="787.5">process</tspan></text></g>
<g id="n-oncbp" class="node"><rect x="2554" y="744" width="158" height="48"/><text><tspan x="2633" y="757.5">organonitrogen</tspan><tspan x="2633" y="772.5">compound biosynthetic</tspan><tspan x="2633" y="787.5">process</tspan></text></g>
<g id="n-aamp" class="node lb"><rect x="2737" y="744" width="147" height="48"/><text><tspan x="2810.5" y="765">amino acid metabolic</tspan><tspan x="2810.5" y="780">process</tspan></text></g>
<g id="n-cacp" class="node"><rect x="2987" y="744" width="118" height="48"/><text><tspan x="3046" y="765">carboxylic acid</tspan><tspan x="3046" y="780">catabolic process</tspan></text></g>
<g id="n-onccp" class="node"><rect x="3130" y="744" width="137" height="48"/><text><tspan x="3198.5" y="757.5">organonitrogen</tspan><tspan x="3198.5" y="772.5">compound catabolic</tspan><tspan x="3198.5" y="787.5">process</tspan></text></g>
<g id="n-gng" class="node bl"><rect x="1657" y="878" width="114" height="48"/><text x="1714" y="906.5">gluconeogenesis</text></g>
<g id="n-aldbp" class="node"><rect x="2066" y="878" width="131" height="48"/><text><tspan x="2131.5" y="899">alditol biosynthetic</tspan><tspan x="2131.5" y="914">process</tspan></text></g>
<g id="n-glymp" class="node"><rect x="2222" y="878" width="126" height="48"/><text><tspan x="2285" y="899">glycerol metabolic</tspan><tspan x="2285" y="914">process</tspan></text></g>
<g id="n-aabp" class="node lb"><rect x="2571" y="878" width="163" height="48"/><text><tspan x="2652.5" y="899">amino acid biosynthetic</tspan><tspan x="2652.5" y="914">process</tspan></text></g>
<g id="n-aaamp" class="node"><rect x="2950" y="878" width="101" height="48"/><text><tspan x="3000.5" y="891.5">alpha-amino</tspan><tspan x="3000.5" y="906.5">acid metabolic</tspan><tspan x="3000.5" y="921.5">process</tspan></text></g>
<g id="n-aacp" class="node"><rect x="3128" y="878" width="141" height="48"/><text><tspan x="3198.5" y="899">amino acid catabolic</tspan><tspan x="3198.5" y="914">process</tspan></text></g>
<g id="n-glybp" class="node bl"><rect x="2096" y="1019" width="141" height="48"/><text><tspan x="2166.5" y="1040">glycerol biosynthetic</tspan><tspan x="2166.5" y="1055">process</tspan></text></g>
<g id="n-dcamp" class="node lb"><rect x="2297" y="1019" width="102" height="48"/><text><tspan x="2348" y="1032.5">dicarboxylic</tspan><tspan x="2348" y="1047.5">acid metabolic</tspan><tspan x="2348" y="1062.5">process</tspan></text></g>
<g id="n-amide" class="node"><rect x="2476" y="1019" width="115" height="48"/><text><tspan x="2533.5" y="1040">amide metabolic</tspan><tspan x="2533.5" y="1055">process</tspan></text></g>
<g id="n-aaabp" class="node"><rect x="2615" y="1019" width="118" height="48"/><text><tspan x="2674" y="1032.5">alpha-amino</tspan><tspan x="2674" y="1047.5">acid biosynthetic</tspan><tspan x="2674" y="1062.5">process</tspan></text></g>
<g id="n-gfmp" class="node"><rect x="2757" y="1019" width="146" height="48"/><text><tspan x="2830" y="1032.5">glutamine family</tspan><tspan x="2830" y="1047.5">amino acid metabolic</tspan><tspan x="2830" y="1062.5">process</tspan></text></g>
<g id="n-afmp" class="node"><rect x="2927" y="1019" width="147" height="48"/><text><tspan x="3000.5" y="1032.5">aspartate family</tspan><tspan x="3000.5" y="1047.5">amino acid metabolic</tspan><tspan x="3000.5" y="1062.5">process</tspan></text></g>
<g id="n-aaacp" class="node"><rect x="3258" y="1019" width="97" height="48"/><text><tspan x="3306.5" y="1032.5">alpha-amino</tspan><tspan x="3306.5" y="1047.5">acid catabolic</tspan><tspan x="3306.5" y="1062.5">process</tspan></text></g>
<g id="n-oxa" class="node bl"><rect x="2170" y="1154" width="126" height="48"/><text><tspan x="2233" y="1175">oxaloacetate</tspan><tspan x="2233" y="1190">metabolic process</tspan></text></g>
<g id="n-dcabp" class="node"><rect x="2320" y="1154" width="117" height="48"/><text><tspan x="2378.5" y="1167.5">dicarboxylic</tspan><tspan x="2378.5" y="1182.5">acid biosynthetic</tspan><tspan x="2378.5" y="1197.5">process</tspan></text></g>
<g id="n-glump" class="node"><rect x="2462" y="1154" width="142" height="48"/><text><tspan x="2533" y="1175">glutamate metabolic</tspan><tspan x="2533" y="1190">process</tspan></text></g>
<g id="n-afbp" class="node"><rect x="2629" y="1154" width="162" height="48"/><text><tspan x="2710" y="1167.5">aspartate family</tspan><tspan x="2710" y="1182.5">amino acid biosynthetic</tspan><tspan x="2710" y="1197.5">process</tspan></text></g>
<g id="n-aspmp" class="node lb"><rect x="2816" y="1154" width="137" height="48"/><text><tspan x="2884.5" y="1175">aspartate metabolic</tspan><tspan x="2884.5" y="1190">process</tspan></text></g>
<g id="n-dcacp" class="node"><rect x="2979" y="1154" width="93" height="48"/><text><tspan x="3025.5" y="1167.5">dicarboxylic</tspan><tspan x="3025.5" y="1182.5">acid catabolic</tspan><tspan x="3025.5" y="1197.5">process</tspan></text></g>
<g id="n-gfcp" class="node"><rect x="3098" y="1154" width="142" height="48"/><text><tspan x="3169" y="1167.5">glutamine family</tspan><tspan x="3169" y="1182.5">amino acid catabolic</tspan><tspan x="3169" y="1197.5">process</tspan></text></g>
<g id="n-afcp" class="node"><rect x="3264" y="1154" width="141" height="48"/><text><tspan x="3334.5" y="1167.5">aspartate family</tspan><tspan x="3334.5" y="1182.5">amino acid catabolic</tspan><tspan x="3334.5" y="1197.5">process</tspan></text></g>
<g id="n-oxg" class="node"><rect x="2020" y="1266" width="125" height="48"/><text><tspan x="2082.5" y="1287">2-oxoglutarate</tspan><tspan x="2082.5" y="1302">metabolic process</tspan></text></g>
<g id="n-fum" class="node"><rect x="2170" y="1266" width="134" height="48"/><text><tspan x="2237" y="1287">fumarate metabolic</tspan><tspan x="2237" y="1302">process</tspan></text></g>
<g id="n-aspbp" class="node bl"><rect x="2636" y="1266" width="150" height="48"/><text><tspan x="2711" y="1287">aspartate biosynthetic</tspan><tspan x="2711" y="1302">process</tspan></text></g>
<g id="n-glucp" class="node"><rect x="2891" y="1266" width="137" height="48"/><text><tspan x="2959.5" y="1287">glutamate catabolic</tspan><tspan x="2959.5" y="1302">process</tspan></text></g>
<g id="n-aspcp" class="node lb"><rect x="3051" y="1266" width="132" height="48"/><text><tspan x="3117" y="1287">aspartate catabolic</tspan><tspan x="3117" y="1302">process</tspan></text></g>
<g id="n-glu2oxg" class="node bl"><rect x="2151" y="1362" width="173" height="48"/><text><tspan x="2237.5" y="1383">glutamate catabolic</tspan><tspan x="2237.5" y="1398">process to 2-oxoglutarate</tspan></text></g>
<g id="n-glu2asp" class="node bl"><rect x="2837" y="1362" width="139" height="48"/><text><tspan x="2906.5" y="1383">glutamate catabolic</tspan><tspan x="2906.5" y="1398">process to aspartate</tspan></text></g>
<g id="n-colmp" class="node"><rect x="3557" y="301" width="129" height="48"/><text><tspan x="3621.5" y="322">collagen metabolic</tspan><tspan x="3621.5" y="337">process</tspan></text></g>
<g id="n-regmp" class="node"><rect x="3825" y="301" width="126" height="48"/><text><tspan x="3888" y="322">regulation of</tspan><tspan x="3888" y="337">metabolic process</tspan></text></g>
<g id="n-nrbp" class="node"><rect x="4094" y="301" width="133" height="48"/><text><tspan x="4160.5" y="314.5">negative regulation</tspan><tspan x="4160.5" y="329.5">of biological</tspan><tspan x="4160.5" y="344.5">process</tspan></text></g>
<g id="n-regmemp" class="node"><rect x="4275" y="301" width="139" height="48"/><text><tspan x="4344.5" y="322">regulation of</tspan><tspan x="4344.5" y="337">membrane potential</tspan></text></g>
<g id="n-nrcca" class="node lb"><rect x="4468" y="293" width="133" height="64"/><text><tspan x="4534.5" y="307">negative regulation</tspan><tspan x="4534.5" y="322">of cytosolic</tspan><tspan x="4534.5" y="337">calcium ion</tspan><tspan x="4534.5" y="352">concentration</tspan></text></g>
<g id="n-regbq" class="node"><rect x="4475" y="197" width="118" height="48"/><text><tspan x="4534" y="218">regulation of</tspan><tspan x="4534" y="233">biological quality</tspan></text></g>
<g id="n-colbp" class="node"><rect x="3438" y="406" width="145" height="48"/><text><tspan x="3510.5" y="427">collagen biosynthetic</tspan><tspan x="3510.5" y="442">process</tspan></text></g>
<g id="n-regbsp" class="node"><rect x="3608" y="406" width="88" height="48"/><text><tspan x="3652" y="419.5">regulation of</tspan><tspan x="3652" y="434.5">biosynthetic</tspan><tspan x="3652" y="449.5">process</tspan></text></g>
<g id="n-regcolmp" class="node"><rect x="3823" y="406" width="130" height="48"/><text><tspan x="3888" y="419.5">regulation of</tspan><tspan x="3888" y="434.5">collagen metabolic</tspan><tspan x="3888" y="449.5">process</tspan></text></g>
<g id="n-nrmp" class="node"><rect x="3978" y="406" width="133" height="48"/><text><tspan x="4044.5" y="419.5">negative regulation</tspan><tspan x="4044.5" y="434.5">of metabolic</tspan><tspan x="4044.5" y="449.5">process</tspan></text></g>
<g id="n-memdep" class="node"><rect x="4237" y="406" width="174" height="48"/><text x="4324" y="434.5">membrane depolarization</text></g>
<g id="n-regmmp" class="node"><rect x="4487" y="406" width="138" height="48"/><text><tspan x="4556" y="419.5">regulation of</tspan><tspan x="4556" y="434.5">mitochondrial</tspan><tspan x="4556" y="449.5">membrane potential</tspan></text></g>
<g id="n-regcolbp" class="node"><rect x="3524" y="511" width="144" height="48"/><text><tspan x="3596" y="524.5">regulation of</tspan><tspan x="3596" y="539.5">collagen biosynthetic</tspan><tspan x="3596" y="554.5">process</tspan></text></g>
<g id="n-nrbsp" class="node"><rect x="3694" y="511" width="133" height="48"/><text><tspan x="3760.5" y="524.5">negative regulation</tspan><tspan x="3760.5" y="539.5">of biosynthetic</tspan><tspan x="3760.5" y="554.5">process</tspan></text></g>
<g id="n-nrcolmp" class="node"><rect x="3851" y="511" width="133" height="48"/><text><tspan x="3917.5" y="524.5">negative regulation</tspan><tspan x="3917.5" y="539.5">of collagen</tspan><tspan x="3917.5" y="554.5">metabolic process</tspan></text></g>
<g id="n-regmemdep" class="node"><rect x="4246" y="511" width="174" height="48"/><text><tspan x="4333" y="532">regulation of</tspan><tspan x="4333" y="547">membrane depolarization</tspan></text></g>
<g id="n-mitodep" class="node"><rect x="4496" y="511" width="99" height="48"/><text><tspan x="4545.5" y="532">mitochondrial</tspan><tspan x="4545.5" y="547">depolarization</tspan></text></g>
<g id="n-nrcolbp" class="node lb"><rect x="3611" y="616" width="133" height="64"/><text><tspan x="3677.5" y="630">negative regulation</tspan><tspan x="3677.5" y="645">of collagen</tspan><tspan x="3677.5" y="660">biosynthetic</tspan><tspan x="3677.5" y="675">process</tspan></text></g>
<g id="n-nrmemdep" class="node"><rect x="4197" y="624" width="134" height="48"/><text><tspan x="4264" y="637.5">negative regulation</tspan><tspan x="4264" y="652.5">of membrane</tspan><tspan x="4264" y="667.5">depolarization</tspan></text></g>
<g id="n-regmitodep" class="node"><rect x="4409" y="624" width="99" height="48"/><text><tspan x="4458.5" y="637.5">regulation of</tspan><tspan x="4458.5" y="652.5">mitochondrial</tspan><tspan x="4458.5" y="667.5">depolarization</tspan></text></g>
<g id="n-nrmitodep" class="node lb"><rect x="4392" y="744" width="133" height="48"/><text><tspan x="4458.5" y="757.5">negative regulation</tspan><tspan x="4458.5" y="772.5">of mitochondrial</tspan><tspan x="4458.5" y="787.5">depolarization</tspan></text></g>
<g id="n-bp" class="node"><rect x="4813" y="5" width="126" height="48"/><text><tspan x="4876" y="26">biological_process</tspan><tspan x="4876" y="41">Got1</tspan></text></g>
<g id="n-bioreg" class="node"><rect x="4649" y="101" width="138" height="48"/><text x="4718" y="129.5">biological regulation</text></g>
<g id="n-devp" class="node"><rect x="5213" y="101" width="104" height="48"/><text><tspan x="5265" y="122">developmental</tspan><tspan x="5265" y="137">process</tspan></text></g>
<g id="n-rbp" class="node"><rect x="4686" y="197" width="122" height="48"/><text><tspan x="4747" y="218">regulation of</tspan><tspan x="4747" y="233">biological process</tspan></text></g>
<g id="n-cellp" class="node"><rect x="5081" y="197" width="107" height="48"/><text x="5134.5" y="225.5">cellular process</text></g>
<g id="n-signaling" class="node"><rect x="4637" y="301" width="73" height="48"/><text x="4673.5" y="329.5">signaling</text></g>
<g id="n-prbp" class="node"><rect x="4784" y="301" width="128" height="48"/><text><tspan x="4848" y="314.5">positive regulation</tspan><tspan x="4848" y="329.5">of biological</tspan><tspan x="4848" y="344.5">process</tspan></text></g>
<g id="n-rcp" class="node"><rect x="4936" y="301" width="108" height="48"/><text><tspan x="4990" y="322">regulation of</tspan><tspan x="4990" y="337">cellular process</tspan></text></g>
<g id="n-cellcomm" class="node"><rect x="5121" y="301" width="134" height="48"/><text x="5188" y="329.5">cell communication</text></g>
<g id="n-rrs" class="node"><rect x="5351" y="301" width="88" height="48"/><text><tspan x="5395" y="314.5">regulation of</tspan><tspan x="5395" y="329.5">response to</tspan><tspan x="5395" y="344.5">stimulus</tspan></text></g>
<g id="n-cdp" class="node"><rect x="5465" y="301" width="156" height="48"/><text><tspan x="5543" y="322">cellular developmental</tspan><tspan x="5543" y="337">process</tspan></text></g>
<g id="n-regsig" class="node"><rect x="4701" y="406" width="88" height="48"/><text><tspan x="4745" y="427">regulation of</tspan><tspan x="4745" y="442">signaling</tspan></text></g>
<g id="n-prcp" class="node"><rect x="4865" y="406" width="127" height="48"/><text><tspan x="4928.5" y="419.5">positive regulation</tspan><tspan x="4928.5" y="434.5">of cellular</tspan><tspan x="4928.5" y="449.5">process</tspan></text></g>
<g id="n-regcc" class="node"><rect x="5069" y="406" width="133" height="48"/><text><tspan x="5135.5" y="427">regulation of</tspan><tspan x="5135.5" y="442">cell communication</tspan></text></g>
<g id="n-st" class="node"><rect x="5228" y="406" width="131" height="48"/><text x="5293.5" y="434.5">signal transduction</text></g>
<g id="n-prrs" class="node"><rect x="5433" y="406" width="128" height="48"/><text><tspan x="5497" y="419.5">positive regulation</tspan><tspan x="5497" y="434.5">of response</tspan><tspan x="5497" y="449.5">to stimulus</tspan></text></g>
<g id="n-prsig" class="node"><rect x="4723" y="511" width="128" height="48"/><text><tspan x="4787" y="532">positive regulation</tspan><tspan x="4787" y="547">of signaling</tspan></text></g>
<g id="n-prcc" class="node"><rect x="4950" y="511" width="150" height="48"/><text><tspan x="5025" y="532">positive regulation</tspan><tspan x="5025" y="547">of cell communication</tspan></text></g>
<g id="n-regst" class="node"><rect x="5125" y="511" width="131" height="48"/><text><tspan x="5190.5" y="532">regulation of</tspan><tspan x="5190.5" y="547">signal transduction</tspan></text></g>
<g id="n-csrsp" class="node"><rect x="5381" y="511" width="122" height="48"/><text><tspan x="5442" y="524.5">cell surface</tspan><tspan x="5442" y="539.5">receptor signaling</tspan><tspan x="5442" y="554.5">pathway</tspan></text></g>
<g id="n-prst" class="node"><rect x="5034" y="624" width="145" height="48"/><text><tspan x="5106.5" y="645">positive regulation</tspan><tspan x="5106.5" y="660">of signal transduction</tspan></text></g>
<g id="n-notch" class="node bl"><rect x="5255" y="624" width="106" height="48"/><text><tspan x="5308" y="645">Notch signaling</tspan><tspan x="5308" y="660">pathway</tspan></text></g>
<g id="n-elrp" class="node"><rect x="5386" y="624" width="125" height="48"/><text><tspan x="5448.5" y="637.5">enzyme-linked</tspan><tspan x="5448.5" y="652.5">receptor protein</tspan><tspan x="5448.5" y="667.5">signaling pathway</tspan></text></g>
<g id="n-trp" class="node"><rect x="5392" y="729" width="111" height="78"/><text><tspan x="5447.5" y="742.5">transmembrane</tspan><tspan x="5447.5" y="757.5">receptor protein</tspan><tspan x="5447.5" y="772.5">serine/threonine</tspan><tspan x="5447.5" y="787.5">kinase signaling</tspan><tspan x="5447.5" y="802.5">pathway</tspan></text></g>
<g id="n-regtrp" class="node"><rect x="5392" y="856" width="111" height="92"/><text><tspan x="5447.5" y="869">regulation of</tspan><tspan x="5447.5" y="884">transmembrane</tspan><tspan x="5447.5" y="899">receptor protein</tspan><tspan x="5447.5" y="914">serine/threonine</tspan><tspan x="5447.5" y="929">kinase signaling</tspan><tspan x="5447.5" y="944">pathway</tspan></text></g>
<g id="n-prtrp" class="node"><rect x="5337" y="997" width="128" height="92"/><text><tspan x="5401" y="1010">positive regulation</tspan><tspan x="5401" y="1025">of transmembrane</tspan><tspan x="5401" y="1040">receptor protein</tspan><tspan x="5401" y="1055">serine/threonine</tspan><tspan x="5401" y="1070">kinase signaling</tspan><tspan x="5401" y="1085">pathway</tspan></text></g>
<g id="n-prcrtgf" class="node"><rect x="5528" y="856" width="128" height="92"/><text><tspan x="5592" y="869">positive regulation</tspan><tspan x="5592" y="884">of cellular</tspan><tspan x="5592" y="899">response to</tspan><tspan x="5592" y="914">transforming</tspan><tspan x="5592" y="929">growth factor</tspan><tspan x="5592" y="944">beta stimulus</tspan></text></g>
<g id="n-prtgfrsp" class="node lb"><rect x="5578" y="1139" width="127" height="78"/><text><tspan x="5641.5" y="1152.5">positive regulation</tspan><tspan x="5641.5" y="1167.5">of transforming</tspan><tspan x="5641.5" y="1182.5">growth factor</tspan><tspan x="5641.5" y="1197.5">beta receptor</tspan><tspan x="5641.5" y="1212.5">signaling pathway</tspan></text></g>
<g id="n-rcrgf" class="node"><rect x="5615" y="616" width="118" height="64"/><text><tspan x="5674" y="630">regulation of</tspan><tspan x="5674" y="645">cellular response</tspan><tspan x="5674" y="660">to growth factor</tspan><tspan x="5674" y="675">stimulus</tspan></text></g>
<g id="n-homeo" class="node"><rect x="5976" y="101" width="86" height="48"/><text><tspan x="6019" y="122">homeostatic</tspan><tspan x="6019" y="137">process</tspan></text></g>
<g id="n-rs" class="node"><rect x="5814" y="197" width="83" height="48"/><text><tspan x="5855.5" y="218">response to</tspan><tspan x="5855.5" y="233">stimulus</tspan></text></g>
<g id="n-chemh" class="node"><rect x="6276" y="197" width="152" height="48"/><text x="6352" y="225.5">chemical homeostasis</text></g>
<g id="n-crs" class="node"><rect x="5645" y="301" width="118" height="48"/><text><tspan x="5704" y="322">cellular response</tspan><tspan x="5704" y="337">to stimulus</tspan></text></g>
<g id="n-res" class="node"><rect x="5838" y="301" width="144" height="48"/><text><tspan x="5910" y="322">response to</tspan><tspan x="5910" y="337">endogenous stimulus</tspan></text></g>
<g id="n-rchem" class="node"><rect x="6033" y="301" width="83" height="48"/><text><tspan x="6074.5" y="322">response to</tspan><tspan x="6074.5" y="337">chemical</tspan></text></g>
<g id="n-liph" class="node"><rect x="6594" y="301" width="120" height="48"/><text x="6654" y="329.5">lipid homeostasis</text></g>
<g id="n-celldiff" class="node"><rect x="5636" y="406" width="125" height="48"/><text x="5698.5" y="434.5">cell differentiation</text></g>
<g id="n-cres" class="node"><rect x="5785" y="406" width="117" height="48"/><text><tspan x="5843.5" y="419.5">cellular response</tspan><tspan x="5843.5" y="434.5">to endogenous</tspan><tspan x="5843.5" y="449.5">stimulus</tspan></text></g>
<g id="n-rgf" class="node"><rect x="5927" y="406" width="93" height="48"/><text><tspan x="5973.5" y="427">response to</tspan><tspan x="5973.5" y="442">growth factor</tspan></text></g>
<g id="n-cenv" class="node"><rect x="6045" y="406" width="118" height="48"/><text><tspan x="6104" y="419.5">cellular response</tspan><tspan x="6104" y="434.5">to environmental</tspan><tspan x="6104" y="449.5">stimulus</tspan></text></g>
<g id="n-rtmn" class="node lb"><rect x="6188" y="406" width="109" height="48"/><text><tspan x="6242.5" y="419.5">response to</tspan><tspan x="6242.5" y="434.5">transition metal</tspan><tspan x="6242.5" y="449.5">nanoparticle</tspan></text></g>
<g id="n-rabio" class="node"><rect x="6322" y="406" width="110" height="48"/><text><tspan x="6377" y="427">response to</tspan><tspan x="6377" y="442">abiotic stimulus</tspan></text></g>
<g id="n-rext" class="node"><rect x="6458" y="406" width="120" height="48"/><text><tspan x="6518" y="427">response to</tspan><tspan x="6518" y="442">external stimulus</tspan></text></g>
<g id="n-fah" class="node bl"><rect x="6601" y="406" width="154" height="48"/><text x="6678" y="434.5">fatty acid homeostasis</text></g>
<g id="n-transdiff" class="node lb"><rect x="5636" y="511" width="130" height="48"/><text x="5701" y="539.5">transdifferentiation</text></g>
<g id="n-crgf" class="node"><rect x="5791" y="511" width="116" height="48"/><text><tspan x="5849" y="524.5">cellular response</tspan><tspan x="5849" y="539.5">to growth factor</tspan><tspan x="5849" y="554.5">stimulus</tspan></text></g>
<g id="n-rtgf" class="node"><rect x="5931" y="503" width="94" height="64"/><text><tspan x="5978" y="517">response to</tspan><tspan x="5978" y="532">transforming</tspan><tspan x="5978" y="547">growth factor</tspan><tspan x="5978" y="562">beta</tspan></text></g>
<g id="n-crabio" class="node"><rect x="6156" y="511" width="125" height="48"/><text><tspan x="6218.5" y="532">cellular response</tspan><tspan x="6218.5" y="547">to abiotic stimulus</tspan></text></g>
<g id="n-rmech" class="node"><rect x="6307" y="511" width="140" height="48"/><text><tspan x="6377" y="532">response to</tspan><tspan x="6377" y="547">mechanical stimulus</tspan></text></g>
<g id="n-crext" class="node"><rect x="6472" y="511" width="117" height="48"/><text><tspan x="6530.5" y="524.5">cellular response</tspan><tspan x="6530.5" y="539.5">to external</tspan><tspan x="6530.5" y="554.5">stimulus</tspan></text></g>
<g id="n-crtgf" class="node"><rect x="5757" y="616" width="116" height="64"/><text><tspan x="5815" y="630">cellular response</tspan><tspan x="5815" y="645">to transforming</tspan><tspan x="5815" y="660">growth factor</tspan><tspan x="5815" y="675">beta stimulus</tspan></text></g>
<g id="n-crmech" class="node lb"><rect x="6319" y="624" width="117" height="48"/><text><tspan x="6377.5" y="637.5">cellular response</tspan><tspan x="6377.5" y="652.5">to mechanical</tspan><tspan x="6377.5" y="667.5">stimulus</tspan></text></g>
<g id="n-rcrtgf" class="node"><rect x="5636" y="729" width="117" height="78"/><text><tspan x="5694.5" y="742.5">regulation of</tspan><tspan x="5694.5" y="757.5">cellular response</tspan><tspan x="5694.5" y="772.5">to transforming</tspan><tspan x="5694.5" y="787.5">growth factor</tspan><tspan x="5694.5" y="802.5">beta stimulus</tspan></text></g>
<g id="n-tgfrsp" class="node"><rect x="5731" y="871" width="126" height="64"/><text><tspan x="5794" y="885">transforming</tspan><tspan x="5794" y="900">growth factor</tspan><tspan x="5794" y="915">beta receptor</tspan><tspan x="5794" y="930">signaling pathway</tspan></text></g>
<g id="n-rtgfrsp" class="node"><rect x="5629" y="1004" width="126" height="78"/><text><tspan x="5692" y="1017.5">regulation of</tspan><tspan x="5692" y="1032.5">transforming</tspan><tspan x="5692" y="1047.5">growth factor</tspan><tspan x="5692" y="1062.5">beta receptor</tspan><tspan x="5692" y="1077.5">signaling pathway</tspan></text></g>
</svg>
